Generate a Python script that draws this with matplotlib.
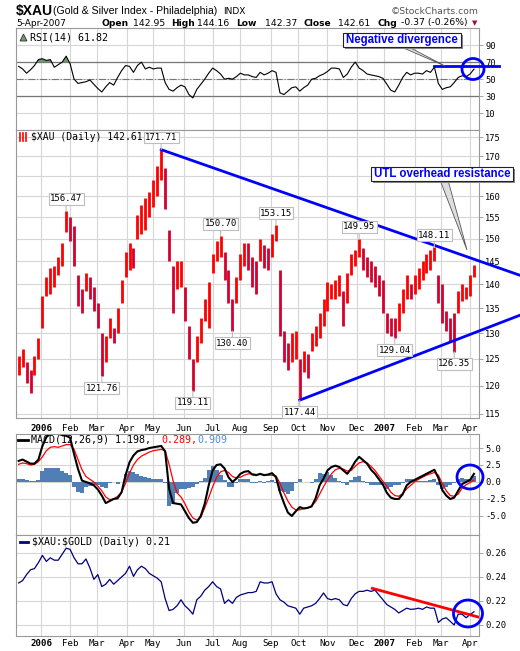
import numpy as np
import pandas as pd
import matplotlib
matplotlib.use('Agg')
import matplotlib.pyplot as plt
from matplotlib.patches import Ellipse, Rectangle, Polygon
from matplotlib.lines import Line2D

plt.rcParams['font.family'] = 'DejaVu Sans Mono'

W, H = 520, 651

days = pd.bdate_range('2005-12-06', '2007-04-05')
sample_days = days[2::3]

xau_high = [125.5, 127.0, 124.5, 123.0, 125.5, 129.0, 137.5, 141.5, 143.5, 144.0,
            146.0, 149.0, 156.47, 155.0, 153.0, 142.0, 139.0, 142.5, 141.5, 139.5,
            136.0, 130.0, 129.5, 133.0, 131.0, 135.0, 141.0, 147.0, 149.0, 148.0,
            155.5, 158.0, 159.5, 161.0, 164.0, 167.5, 171.71, 167.0, 152.0, 144.0,
            145.0, 145.0, 139.5, 131.5, 125.0, 129.5, 133.0, 137.0, 140.5, 146.5,
            149.5, 150.70, 147.0, 143.0, 137.0, 141.5, 146.5, 149.0, 149.0, 146.0,
            145.0, 150.0, 148.5, 148.0, 151.0, 153.15, 143.0, 130.5, 128.0, 130.0,
            130.5, 125.0, 126.5, 126.0, 130.0, 131.5, 134.0, 137.0, 140.5, 140.0,
            141.0, 142.0, 138.5, 142.5, 146.5, 147.5, 149.95, 148.0, 146.0, 145.0,
            144.0, 142.0, 141.0, 134.0, 133.0, 133.0, 136.0, 139.0, 142.0, 140.0,
            142.0, 143.5, 145.0, 146.5, 147.5, 148.11, 142.0, 140.0, 134.5, 133.0,
            134.0, 138.5, 140.0, 139.5, 142.0, 144.16]
xau_low = [122.0, 123.5, 120.5, 118.8, 122.0, 125.0, 131.0, 137.5, 138.0, 139.5,
           142.0, 144.0, 151.5, 149.5, 144.0, 135.5, 134.0, 138.5, 137.0, 134.5,
           131.0, 121.76, 124.5, 129.0, 128.0, 130.0, 136.0, 141.5, 143.0, 143.5,
           150.0, 151.0, 152.0, 155.0, 157.5, 160.0, 164.0, 157.0, 145.0, 134.0,
           139.0, 139.5, 132.5, 125.0, 119.11, 124.5, 128.0, 132.5, 131.0, 142.5,
           145.0, 146.0, 141.0, 136.0, 130.40, 136.0, 141.0, 144.0, 143.0, 139.5,
           138.0, 145.0, 143.5, 143.0, 146.0, 149.5, 129.5, 124.5, 123.0, 124.5,
           125.0, 117.44, 122.5, 121.5, 126.5, 127.5, 129.0, 131.5, 134.5, 137.0,
           137.0, 137.5, 131.5, 136.0, 142.0, 144.0, 146.0, 143.0, 141.5, 140.5,
           139.5, 137.5, 134.0, 130.0, 129.5, 129.04, 130.5, 134.0, 137.0, 137.0,
           138.0, 139.0, 141.0, 142.5, 143.0, 145.0, 136.0, 132.0, 130.5, 128.5,
           126.35, 134.0, 136.5, 137.0, 137.5, 141.5]
rsi14 = [65, 62, 57, 61, 66, 73, 74, 72, 73, 64,
         67, 70, 77, 68, 50, 45, 46, 47, 49, 44,
         39, 35, 41, 46, 43, 52, 60, 66, 65, 58,
         66, 70, 62, 64, 62, 63, 63, 46, 38, 36,
         40, 43, 41, 32, 28, 38, 44, 50, 57, 63,
         60, 56, 50, 51, 50, 53, 57, 55, 55, 53,
         52, 58, 55, 57, 60, 58, 34, 32, 36, 40,
         41, 36, 40, 43, 50, 51, 54, 56, 59, 63,
         63, 62, 52, 56, 64, 70, 63, 60, 56, 55,
         54, 53, 51, 44, 37, 35, 43, 52, 58, 55,
         57, 57, 56, 60, 58, 64, 45, 38, 40, 41,
         46, 52, 54, 53, 56, 61.82]
macd_line = [3.1, 3.3, 3.0, 2.7, 2.7, 3.3, 5.3, 6.6, 7.1, 7.2,
             7.1, 6.9, 6.8, 6.5, 4.1, 1.9, 0.2, 0.0, -0.2, -0.5,
             -1.1, -2.0, -3.1, -2.8, -2.5, -2.4, -1.5, 1.0, 2.9, 3.9,
             4.5, 4.7, 4.8, 5.0, 5.1, 5.2, 5.3, 4.5, -1.0, -3.1,
             -3.2, -3.3, -4.3, -5.3, -6.0, -5.9, -5.0, -3.2, -0.5, 1.7,
             2.5, 2.6, 2.0, 0.7, 0.0, 0.5, 1.2, 1.5, 1.6, 1.1,
             1.0, 1.2, 1.0, 1.1, 1.3, 0.7, -1.5, -3.1, -4.5, -5.0,
             -4.3, -3.7, -3.9, -3.8, -3.6, -2.4, -0.5, 0.5, 1.7, 2.2,
             2.4, 2.2, 1.7, 1.2, 2.0, 3.0, 3.7, 3.2, 2.7, 1.8,
             1.2, 0.4, -0.4, -1.6, -2.3, -2.5, -2.5, -1.8, -0.5, 0.0,
             0.3, 0.6, 0.9, 1.2, 1.5, 1.8, 0.6, -1.2, -2.0, -2.5,
             -2.3, -1.3, -0.3, 0.0, 0.3, 1.198]
macd_signal = [2.6, 2.8, 2.7, 2.5, 2.6, 3.0, 3.7, 4.6, 5.1, 5.2,
               5.1, 5.3, 5.5, 5.5, 4.8, 3.3, 1.8, 0.8, 0.4, 0.0,
               -0.6, -1.3, -2.2, -2.6, -2.5, -2.1, -1.5, -0.2, 1.3, 2.5,
               3.3, 3.8, 4.1, 4.4, 4.6, 4.7, 4.8, 4.6, 2.6, 0.2,
               -1.6, -2.2, -3.2, -4.4, -5.3, -5.6, -5.2, -3.8, -2.3, -0.7,
               0.7, 1.5, 1.7, 1.4, 0.8, 0.6, 0.7, 1.0, 1.2, 1.2,
               1.1, 1.1, 1.1, 1.0, 1.0, 0.9, -0.2, -1.6, -2.8, -3.7,
               -4.1, -4.1, -3.9, -3.8, -3.5, -2.9, -1.8, -0.7, 0.3, 1.2,
               1.8, 2.0, 1.9, 1.6, 1.7, 2.3, 2.8, 3.0, 2.8, 2.3,
               1.7, 0.9, 0.1, -0.6, -1.5, -2.0, -2.1, -1.7, -1.0, -0.5,
               0.0, 0.4, 0.7, 1.0, 1.2, 1.4, 1.0, -0.2, -1.3, -2.0,
               -2.1, -1.8, -0.9, -0.4, -0.1, 0.289]
xau_gold = [0.235, 0.237, 0.242, 0.246, 0.247, 0.252, 0.258, 0.253, 0.256, 0.254,
            0.254, 0.259, 0.264, 0.263, 0.256, 0.251, 0.251, 0.255, 0.2475, 0.238,
            0.242, 0.232, 0.234, 0.238, 0.234, 0.237, 0.240, 0.243, 0.249, 0.2405,
            0.246, 0.249, 0.247, 0.243, 0.241, 0.239, 0.236, 0.222, 0.212, 0.213,
            0.216, 0.221, 0.216, 0.213, 0.209, 0.221, 0.224, 0.229, 0.232, 0.236,
            0.232, 0.230, 0.218, 0.221, 0.218, 0.223, 0.225, 0.226, 0.227, 0.227,
            0.228, 0.236, 0.235, 0.235, 0.236, 0.226, 0.221, 0.219, 0.216, 0.215,
            0.214, 0.209, 0.214, 0.215, 0.216, 0.218, 0.222, 0.2267, 0.222, 0.221,
            0.222, 0.221, 0.217, 0.216, 0.222, 0.226, 0.228, 0.228, 0.229, 0.228,
            0.229, 0.225, 0.221, 0.217, 0.215, 0.213, 0.210, 0.212, 0.214, 0.213,
            0.2133, 0.214, 0.213, 0.215, 0.214, 0.214, 0.202, 0.205, 0.206, 0.203,
            0.200, 0.209, 0.209, 0.206, 0.2086, 0.211]

peak_labels = [156.47, 171.71, 150.70, 153.15, 149.95, 148.11]
trough_labels = [121.76, 119.11, 130.40, 117.44, 129.04, 126.35]

quote_names = ['Open', 'High', 'Low', 'Close', 'Chg']
quote_values = ['142.95', '144.16', '142.37', '142.61', '-0.37 (-0.26%)']
last_close = 142.61

price_ticks = list(range(115, 180, 5))
rsi_ticks = [10, 30, 50, 70, 90]
macd_ticks = [-5.0, -2.5, 0.0, 2.5, 5.0]
ratio_ticks = [0.20, 0.22, 0.24, 0.26]

# hand drawn lines on the chart
utl_dates, utl_values = ['2006-05-09', '2007-05-24'], [171.71, 141.9]
ltl_dates, ltl_values = ['2006-10-03', '2007-05-24'], [117.44, 133.6]
rsi_div_dates, rsi_div_values = ['2007-02-22', '2007-05-02'], [65, 65]
ratio_tl_dates, ratio_tl_values = ['2006-12-19', '2007-04-10'], [0.2305, 0.2067]

BLUE = '#0000ff'

fig = plt.figure(figsize=(W / 100, H / 100), dpi=100)


def panel(top, bottom):
    return [16 / W, 1 - bottom / H, 463 / W, (bottom - top) / H]


def pos(d):
    return np.busday_count(days[0].date(), pd.Timestamp(d).date())


def ftext(px, py, s, **kw):
    kw.setdefault('va', 'center')
    return fig.text(px / W, 1 - py / H, s, **kw)


def fxy(px, py):
    return (px / W, 1 - py / H)


ax_rsi = fig.add_axes(panel(28, 130))
ax_px = fig.add_axes(panel(130, 418), sharex=ax_rsi)
ax_macd = fig.add_axes(panel(434, 535), sharex=ax_rsi)
ax_gold = fig.add_axes(panel(535, 636), sharex=ax_rsi)
axes = [ax_rsi, ax_px, ax_macd, ax_gold]

x = days.get_indexer(sample_days)

month_starts = [days[days >= m][0] for m in pd.date_range('2006-01-01', '2007-04-01', freq='MS')]
month_pos = [days.get_loc(d) for d in month_starts]
month_names = [str(d.year) if d.month == 1 else d.strftime('%b') for d in month_starts]

for ax in axes:
    ax.set_xlim(0, 350.8)
    ax.set_xticks(month_pos, month_names)
    ax.grid(True, color='#d6d6d6', lw=0.8)
    ax.set_axisbelow(True)
    ax.yaxis.tick_right()
    ax.tick_params(axis='y', length=3, width=0.6, color='#999999', labelsize=6.3, pad=1.5)
    ax.tick_params(axis='x', length=0, labelsize=6.6, pad=4,
                   labelbottom=ax in (ax_px, ax_gold))
    for s in ax.spines.values():
        s.set_color('#999999')
        s.set_linewidth(0.8)
ax_gold.tick_params(axis='x', pad=2)

# RSI
rsi_arr = np.array(rsi14)
ax_rsi.fill_between(x, rsi_arr, 70, where=rsi_arr > 70, interpolate=True,
                    color='#6e9a6e', lw=0)
ax_rsi.axhline(70, color='#777777', lw=0.9)
ax_rsi.axhline(30, color='#777777', lw=0.9)
ax_rsi.axhline(50, color='#777777', lw=0.8, ls='-.')
ax_rsi.plot(x, rsi14, color='black', lw=0.8)
ax_rsi.set_ylim(-9.6, 110)
ax_rsi.set_yticks(rsi_ticks, [str(v) for v in rsi_ticks])
ax_rsi.plot([pos(d) for d in rsi_div_dates], rsi_div_values, color=BLUE, lw=2,
            clip_on=False, zorder=6)

# price bars, brighter red when the bar sits higher than the one before
hi = np.array(xau_high)
lo = np.array(xau_low)
mid = (hi + lo) / 2
up = np.r_[True, mid[1:] >= mid[:-1]]
bar_colors = np.where(up, '#ff0000', '#d4002e')
ax_px.vlines(x, lo, hi, colors=bar_colors, lw=2.0)
ax_px.set_yscale('log')
ax_px.set_ylim(114.3, 176.9)
ax_px.set_yticks(price_ticks, [str(v) for v in price_ticks])
ax_px.minorticks_off()
ax_px.plot([pos(d) for d in utl_dates], utl_values, color=BLUE, lw=2, clip_on=False, zorder=6)
ax_px.plot([pos(d) for d in ltl_dates], ltl_values, color=BLUE, lw=2, clip_on=False, zorder=6)

lab_box = dict(boxstyle='square,pad=0.15', fc='white', ec='#bdbdbd', lw=0.8)
for v in peak_labels:
    i = xau_high.index(v)
    ax_px.annotate(f'{v:.2f}', (x[i], v), xytext=(0, 12), textcoords='offset pixels',
                   ha='center', va='center', fontsize=6.5, bbox=lab_box, zorder=7,
                   arrowprops=dict(arrowstyle='-', color='#bdbdbd', lw=0.8,
                                   shrinkA=0, shrinkB=0))
for v in trough_labels:
    i = xau_low.index(v)
    ax_px.annotate(f'{v:.2f}', (x[i], v), xytext=(0, -12), textcoords='offset pixels',
                   ha='center', va='center', fontsize=6.5, bbox=lab_box, zorder=7,
                   arrowprops=dict(arrowstyle='-', color='#bdbdbd', lw=0.8,
                                   shrinkA=0, shrinkB=0))

# MACD
hist = np.array(macd_line) - np.array(macd_signal)
ax_macd.bar(x, hist, width=3, color='#4f7fb4', lw=0)
ax_macd.plot(x, macd_signal, color='red', lw=0.9)
ax_macd.plot(x, macd_line, color='black', lw=1.5)
ax_macd.set_ylim(-7.8, 7.06)
ax_macd.set_yticks(macd_ticks, [f'{v:.1f}' for v in macd_ticks])

# XAU:GOLD ratio
ax_gold.plot(x, xau_gold, color='#000080', lw=0.9)
ax_gold.plot([pos(d) for d in ratio_tl_dates], ratio_tl_values, color='red', lw=2, zorder=6)
ax_gold.set_ylim(0.1908, 0.275)
ax_gold.set_yticks(ratio_ticks, [f'{v:.2f}' for v in ratio_ticks])

for ax in (ax_px, ax_gold):
    for lab in ax.get_xticklabels():
        if lab.get_text().isdigit():
            lab.set_fontweight('bold')

# header
ftext(16, 11, '$XAU', family='Liberation Sans', weight='bold', size=10)
ftext(53, 11, '(Gold & Silver Index - Philadelphia)', family='Liberation Sans', size=7.6)
ftext(223, 11, 'INDX', family='DejaVu Sans', size=6.5)
ftext(479, 11, '\u00a9StockCharts.com', family='DejaVu Sans', size=6.7, ha='right',
      color='#555555')
ftext(16, 23, '5-Apr-2007', family='DejaVu Sans', size=6.5)
name_x = [101, 171, 236, 303, 377]
value_x = [133, 197, 265, 338, 401]
for nx, vx, n, v in zip(name_x, value_x, quote_names, quote_values):
    ftext(nx, 23, n, family='DejaVu Sans', weight='bold', size=6.6)
    ftext(vx, 23, v, family='DejaVu Sans', size=6.7)
ftext(475, 23, '\u25bc', family='DejaVu Sans', size=5, ha='center', color='#a01030')

# panel legends
fig.add_artist(Polygon([fxy(20, 41), fxy(23.5, 34), fxy(27, 41)], closed=True,
                       fc='#6e9a6e', ec='#333333', lw=0.6, zorder=8))
ftext(30, 37, f'RSI(14) {rsi14[-1]:.2f}', size=7.2)
for bx in (20, 23, 26):
    fig.add_artist(Line2D([bx / W] * 2, [1 - 141 / H, 1 - 133 / H], color='red', lw=1.2, zorder=8))
ftext(31, 137, f'$XAU (Daily) {last_close:.2f}', size=7.0)
fig.add_artist(Line2D([18 / W, 28 / W], [1 - 440 / H] * 2, color='black', lw=2, zorder=8))
ftext(31, 440, f'MACD(12,26,9) {macd_line[-1]:.3f},', size=7.2)
ftext(161, 440, f'{macd_signal[-1]:.3f},', size=7.2, color='red')
ftext(197, 440, f'{macd_line[-1] - macd_signal[-1]:.3f}', size=7.2, color='#4f8fd8')
fig.add_artist(Line2D([20 / W, 28 / W], [1 - 542 / H] * 2, color='#000080', lw=2, zorder=8))
ftext(32, 542, f'\\$XAU:\\$GOLD (Daily) {xau_gold[-1]:.2f}', size=7.2)

# blue rings
for cx, cy, rx, ry in [(473, 69, 11, 10.5), (470, 477, 13, 12), (468, 613.5, 14.5, 13.5)]:
    fig.add_artist(Ellipse(fxy(cx, cy), 2 * rx / W, 2 * ry / H, fill=False, ec=BLUE,
                           lw=2, zorder=9))


def callout(x0, x1, y0, y1, text, wedge):
    fig.add_artist(Polygon([fxy(*p) for p in wedge], closed=True, fc='#dddddd',
                           ec='#555555', lw=0.6, zorder=9))
    fig.add_artist(Rectangle(fxy(x0 + 2, y1 + 2), (x1 - x0) / W, (y1 - y0) / H,
                             fc='#888888', ec='none', zorder=9))
    fig.add_artist(Rectangle(fxy(x0, y1), (x1 - x0) / W, (y1 - y0) / H,
                             fc='white', ec='#222222', lw=0.8, zorder=10))
    t = ftext((x0 + x1) / 2, (y0 + y1) / 2, text, family='Liberation Sans', weight='bold',
              size=8.3, color=BLUE, ha='center')
    t.set_zorder(11)


callout(343, 461, 33, 46.5, 'Negative divergence', [(399, 46), (407, 46), (445, 66)])
callout(371, 513, 167, 180.5, 'UTL overhead resistance', [(440, 180), (448, 180), (467, 250)])

fig.savefig('out.png', dpi=100)
